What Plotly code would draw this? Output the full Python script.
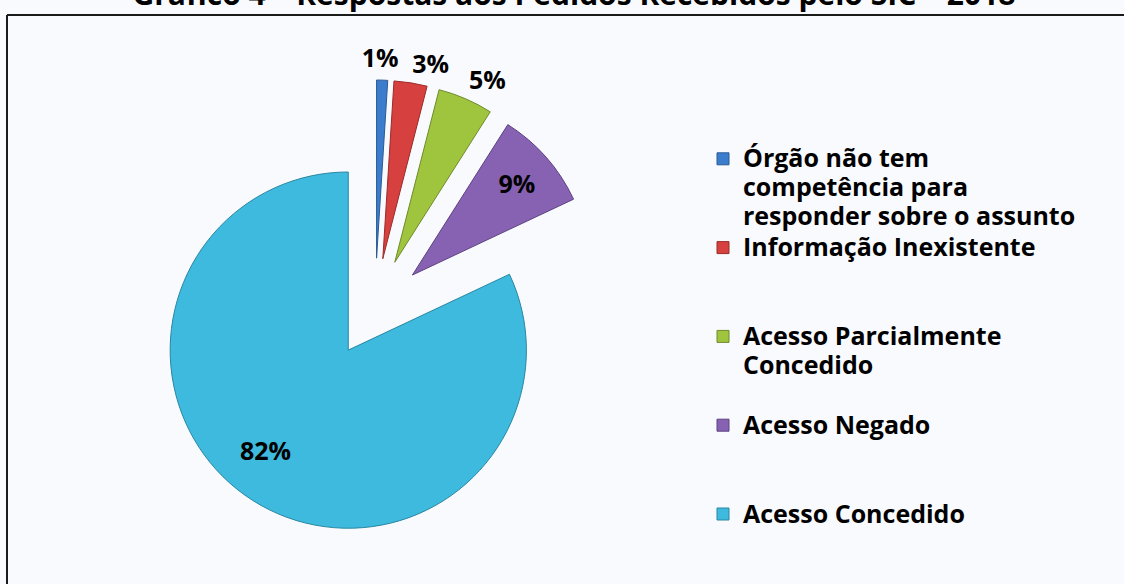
import plotly.graph_objects as go

# ---- data ----
categories = [
    "Órgão não tem<br>competência para<br>responder sobre o assunto",
    "Informação Inexistente<br>\u00a0<br>\u00a0",
    "Acesso Parcialmente<br>Concedido<br>\u00a0",
    "Acesso Negado<br>\u00a0<br>\u00a0",
    "Acesso Concedido",
]
values = [1, 3, 5, 9, 82]
colors = ["#3b7dcc", "#d6403e", "#9fc43e", "#8762b3", "#3dbadd"]
edge_colors = ["#2a5a95", "#9a2b2a", "#6f8a2a", "#5d4282", "#2a87a3"]
title_text = "Gráfico 4 – Respostas aos Pedidos Recebidos pelo SIC – 2018"

W, H = 1124, 584
FONT = "Open Sans"
PULL = 0.28
# pie domain in pixels: x0, x1, y0 (from bottom), y1
PIE_PX = (147, 603, 48, 504)
label_font = dict(family=FONT, size=25, color="black", weight="bold")

# label layers: (text position per slice, label nudge in px (dx, dy up))
label_layers = [
    (["none", "none", "none", "inside", "none"], (0, 0)),
    (["none", "none", "outside", "none", "none"], (-5, 5)),
    (["outside", "none", "none", "none", "none"], (-29, 6)),
    (["none", "outside", "none", "none", "none"], (-7, 3)),
    (["none", "none", "none", "none", "inside"], (-35, -25)),
]


def domain(dx=0, dy=0):
    x0, x1, y0, y1 = PIE_PX
    return dict(x=[(x0 + dx) / W, (x1 + dx) / W], y=[(y0 + dy) / H, (y1 + dy) / H])


def legend_label(s):
    return "<br>".join(f"<span style='font-size:25px'>{p}</span>" for p in s.split("<br>"))


legend_labels = [legend_label(c) for c in categories]

fig = go.Figure()
fig.add_trace(go.Pie(
    labels=legend_labels,
    values=values,
    sort=False,
    direction="clockwise",
    rotation=0,
    pull=PULL,
    marker=dict(colors=colors, line=dict(color=edge_colors, width=1)),
    textinfo="none",
    domain=domain(),
    hoverinfo="percent",
))
for tp, (dx, dy) in label_layers:
    fig.add_trace(go.Pie(
        labels=legend_labels,
        values=values,
        sort=False,
        direction="clockwise",
        rotation=0,
        pull=PULL,
        marker=dict(colors=["rgba(0,0,0,0)"] * len(values),
                    line=dict(width=0)),
        texttemplate="%{percent:.0%}",
        textposition=tp,
        insidetextorientation="horizontal",
        textfont=label_font,
        outsidetextfont=label_font,
        insidetextfont=label_font,
        domain=domain(dx, dy),
        showlegend=False,
        hoverinfo="skip",
    ))

fig.update_layout(
    width=W, height=H,
    margin=dict(l=0, r=0, t=0, b=0, autoexpand=False),
    paper_bgcolor="#f9fafd",
    plot_bgcolor="#f9fafd",
    title=dict(
        text=title_text,
        x=574 / W, xanchor="center",
        yref="container", y=1 - 5 / H, yanchor="bottom",
        font=dict(family=FONT, size=30, color="black", weight="bold"),
    ),
    legend=dict(
        x=703 / W, xanchor="left",
        y=1 - 138 / H, yanchor="top",
        valign="top",
        font=dict(family=FONT, size=22, color="black", weight="bold"),
        bgcolor="rgba(0,0,0,0)",
        traceorder="normal",
    ),
    showlegend=True,
    shapes=[
        dict(type="line", xref="paper", yref="paper",
             x0=7 / W, x1=1.0, y0=1 - 15 / H, y1=1 - 15 / H,
             line=dict(color="#1a1a1a", width=2)),
        dict(type="line", xref="paper", yref="paper",
             x0=7 / W, x1=7 / W, y0=0.0, y1=1 - 15 / H,
             line=dict(color="#1a1a1a", width=2)),
    ],
)

fig.write_html(
    "out.html",
    config={"displayModeBar": False},
    post_script=(
        "document.body.style.margin='0';"
        "document.body.style.overflow='hidden';"
        "document.documentElement.style.overflow='hidden';"
    ),
)
